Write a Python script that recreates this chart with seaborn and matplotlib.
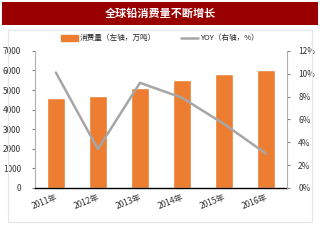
import matplotlib
matplotlib.use('Agg')
import matplotlib.pyplot as plt
import matplotlib.patches as mpatches
import matplotlib.lines as mlines
import seaborn as sns
import pandas as pd

years = ['2011年', '2012年', '2013年', '2014年', '2015年', '2016年']
consumption = [4570, 4700, 5100, 5500, 5830, 6030]
yoy = [10.1, 3.4, 9.2, 7.9, 5.6, 3.0]

sns.set_style('white')
plt.rcParams['font.family'] = ['Noto Sans CJK SC', 'DejaVu Sans']

df = pd.DataFrame({'year': years, 'cons': consumption, 'yoy': yoy})

fig = plt.figure(figsize=(3.2, 2.4), dpi=100)
fig.patch.set_facecolor('white')

# title banner
fig.patches.append(mpatches.Rectangle((0.006, 0.895), 0.988, 0.097, transform=fig.transFigure,
                                      facecolor='#990000', edgecolor='none'))
fig.text(0.5, 0.943, '全球铅消费量不断增长', color='white', fontsize=8, fontweight='bold',
         ha='center', va='center')
# chart frame
fig.patches.append(mpatches.Rectangle((0.025, 0.075), 0.95, 0.80, transform=fig.transFigure,
                                      facecolor='none', edgecolor='#e6e6e6', lw=0.8))

ax = fig.add_axes([0.109, 0.217, 0.788, 0.571])
sns.barplot(data=df, x='year', y='cons', color='#ED7D31', width=0.42, ax=ax, saturation=1)
ax.set_ylim(0, 7000)
ax.set_yticks(range(0, 7001, 1000))
ax.set_xlabel('')
ax.set_ylabel('')
ax.tick_params(axis='y', labelsize=6, length=2, color='#808080', pad=8, labelcolor='#333333')
ax.tick_params(axis='x', labelsize=6, length=2, color='#808080', direction='in', labelcolor='#333333')
for lab in ax.get_xticklabels():
    lab.set_rotation(22)
    lab.set_ha('right')
    lab.set_rotation_mode('anchor')
ax.spines['top'].set_visible(False)
ax.spines['right'].set_visible(False)
ax.spines['left'].set_color('#b0b0b0')
ax.spines['bottom'].set_color('black')
ax.spines['bottom'].set_linewidth(1.0)

ax2 = ax.twinx()
sns.lineplot(data=df, x='year', y='yoy', color='#A6A6A6', lw=1.8, ax=ax2)
ax2.set_ylim(0, 12)
ax2.set_yticks(range(0, 13, 2))
ax2.set_yticklabels([f'{v}%' for v in range(0, 13, 2)])
ax2.set_ylabel('')
ax2.tick_params(axis='y', labelsize=6, length=2, color='#808080', pad=6, labelcolor='#333333')
for s in ['top', 'left', 'bottom']:
    ax2.spines[s].set_visible(False)
ax2.spines['right'].set_color('#b0b0b0')
ax.set_xlim(-0.5, 5.5)

h1 = mpatches.Patch(color='#ED7D31', label='消费量（左轴，万吨）')
h2 = mlines.Line2D([], [], color='#A6A6A6', lw=1.8, label='YOY（右轴，%）')
fig.legend(handles=[h1, h2], loc='center', bbox_to_anchor=(0.5, 0.84), ncol=2, frameon=False,
           fontsize=5.5, handlelength=2.2, handleheight=0.8, columnspacing=3.3, handletextpad=0.3)

fig.savefig('out.png', dpi=100)
